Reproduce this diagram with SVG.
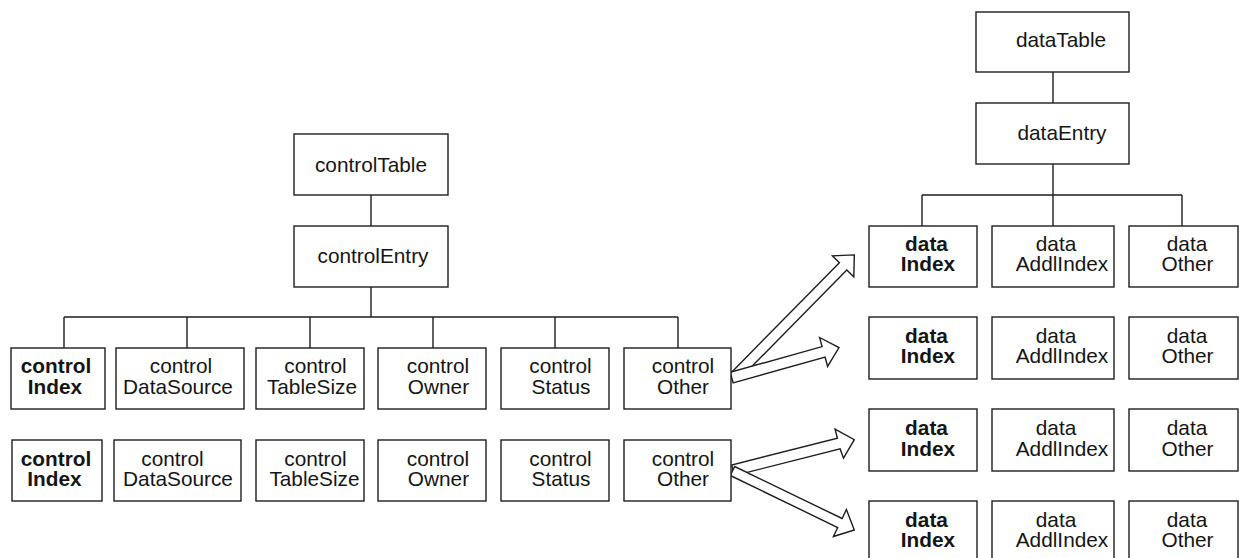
<svg xmlns="http://www.w3.org/2000/svg" width="1239" height="558" viewBox="0 0 1239 558">
  <style>
    .box { fill: #ffffff; stroke: #1e1e1e; stroke-width: 1.4; }
    .wire { fill: none; stroke: #1e1e1e; stroke-width: 1.4; }
    .arrow { fill: #ffffff; stroke: #1e1e1e; stroke-width: 1.4; stroke-linejoin: miter; }
    text { font-family: "Liberation Sans", Arial, sans-serif; font-size: 20.8px; fill: #151515; text-anchor: middle; }
    .b { font-weight: bold; }
  </style>

  <!-- tree lines and block arrows -->
  <g id="connectors">
    <!-- controlTable tree -->
    <path class="wire" d="M371 195V226 M371 287V317 M64 317H678 M64 317V348 M187 317V348 M310 317V348 M433 317V348 M555 317V348 M678 317V348"/>
    <!-- dataTable tree -->
    <path class="wire" d="M1053 72V103 M1053 164V195 M922 195H1182 M922 195V226 M1053 195V226 M1182 195V226"/>
    <!-- hollow arrows from the first controlOther row -->
    <polygon class="arrow" points="739.3,379.2 846.8,270 853.8,276.8 854.3,254.9 832.4,255.8 839.4,262.7 731.9,371.9"/>
    <polygon class="arrow" points="733.2,382.9 825.1,357.2 827.6,366.4 839,347.6 819.6,337.5 822.1,346.6 730.2,372.3"/>
    <!-- hollow arrows from the second controlOther row -->
    <polygon class="arrow" points="734.4,475.6 840.1,448.9 843.5,458.2 854.3,439.7 835.1,429.1 837.4,438.3 731.7,465"/>
    <polygon class="arrow" points="730.3,475.5 837.7,527.5 833.4,536.5 854.3,530 846.4,509.5 842.1,518.5 734.7,466.5"/>
  </g>

  <!-- control table -->
  <g id="controlTable"><rect class="box" x="294" y="134" width="154" height="61"/><text x="371" y="172">controlTable</text></g>
  <g id="controlEntry"><rect class="box" x="294" y="226" width="154" height="61"/><text x="373" y="263">controlEntry</text></g>

  <g id="controlIndex1"><rect class="box" x="11" y="348" width="94" height="61"/><text class="b" x="56" y="373">control</text><text class="b" x="55" y="394">Index</text></g>
  <g id="controlDataSource1"><rect class="box" x="116" y="348" width="128" height="61"/><text x="181" y="373">control</text><text x="178" y="394">DataSource</text></g>
  <g id="controlTableSize1"><rect class="box" x="256" y="348" width="108" height="61"/><text x="315.5" y="373">control</text><text x="312" y="394">TableSize</text></g>
  <g id="controlOwner1"><rect class="box" x="378" y="348" width="108" height="61"/><text x="438" y="373">control</text><text x="438.5" y="394">Owner</text></g>
  <g id="controlStatus1"><rect class="box" x="501" y="348" width="108" height="61"/><text x="560.5" y="373">control</text><text x="561" y="394">Status</text></g>
  <g id="controlOther1"><rect class="box" x="624" y="348" width="107" height="61"/><text x="683" y="373">control</text><text x="683" y="394">Other</text></g>

  <g id="controlIndex2"><rect class="box" x="12" y="440" width="90" height="61"/><text class="b" x="56" y="465.5">control</text><text class="b" x="54.5" y="485.5">Index</text></g>
  <g id="controlDataSource2"><rect class="box" x="114" y="440" width="127" height="61"/><text x="172.5" y="465.5">control</text><text x="178" y="485.5">DataSource</text></g>
  <g id="controlTableSize2"><rect class="box" x="256" y="440" width="108" height="61"/><text x="315.5" y="465.5">control</text><text x="314.5" y="485.5">TableSize</text></g>
  <g id="controlOwner2"><rect class="box" x="378" y="440" width="108" height="61"/><text x="438" y="465.5">control</text><text x="438.5" y="485.5">Owner</text></g>
  <g id="controlStatus2"><rect class="box" x="501" y="440" width="108" height="61"/><text x="560.5" y="465.5">control</text><text x="561" y="485.5">Status</text></g>
  <g id="controlOther2"><rect class="box" x="624" y="440" width="107" height="61"/><text x="683" y="465.5">control</text><text x="683" y="485.5">Other</text></g>

  <!-- data table -->
  <g id="dataTable"><rect class="box" x="976" y="12" width="153" height="60"/><text x="1061" y="47">dataTable</text></g>
  <g id="dataEntry"><rect class="box" x="976" y="103" width="153" height="61"/><text x="1062" y="140">dataEntry</text></g>

  <g id="dataIndex1"><rect class="box" x="869" y="226" width="108" height="61"/><text class="b" x="926.5" y="250.5">data</text><text class="b" x="928" y="271">Index</text></g>
  <g id="dataAddlIndex1"><rect class="box" x="992" y="226" width="122" height="61"/><text x="1056" y="250.5">data</text><text x="1062" y="271">AddlIndex</text></g>
  <g id="dataOther1"><rect class="box" x="1129" y="226" width="109" height="61"/><text x="1187" y="250.5">data</text><text x="1187.5" y="271">Other</text></g>

  <g id="dataIndex2"><rect class="box" x="869" y="317" width="108" height="62"/><text class="b" x="926.5" y="343">data</text><text class="b" x="928" y="363">Index</text></g>
  <g id="dataAddlIndex2"><rect class="box" x="992" y="317" width="122" height="62"/><text x="1056" y="343">data</text><text x="1062" y="363">AddlIndex</text></g>
  <g id="dataOther2"><rect class="box" x="1129" y="317" width="109" height="62"/><text x="1187" y="343">data</text><text x="1187.5" y="363">Other</text></g>

  <g id="dataIndex3"><rect class="box" x="869" y="409" width="108" height="62"/><text class="b" x="926.5" y="435">data</text><text class="b" x="928" y="456">Index</text></g>
  <g id="dataAddlIndex3"><rect class="box" x="992" y="409" width="122" height="62"/><text x="1056" y="435">data</text><text x="1062" y="456">AddlIndex</text></g>
  <g id="dataOther3"><rect class="box" x="1129" y="409" width="109" height="62"/><text x="1187" y="435">data</text><text x="1187.5" y="456">Other</text></g>

  <g id="dataIndex4"><rect class="box" x="869" y="501" width="108" height="62"/><text class="b" x="926.5" y="527">data</text><text class="b" x="928" y="547">Index</text></g>
  <g id="dataAddlIndex4"><rect class="box" x="992" y="501" width="122" height="62"/><text x="1056" y="527">data</text><text x="1062" y="547">AddlIndex</text></g>
  <g id="dataOther4"><rect class="box" x="1129" y="501" width="109" height="62"/><text x="1187" y="527">data</text><text x="1187.5" y="547">Other</text></g>
</svg>
